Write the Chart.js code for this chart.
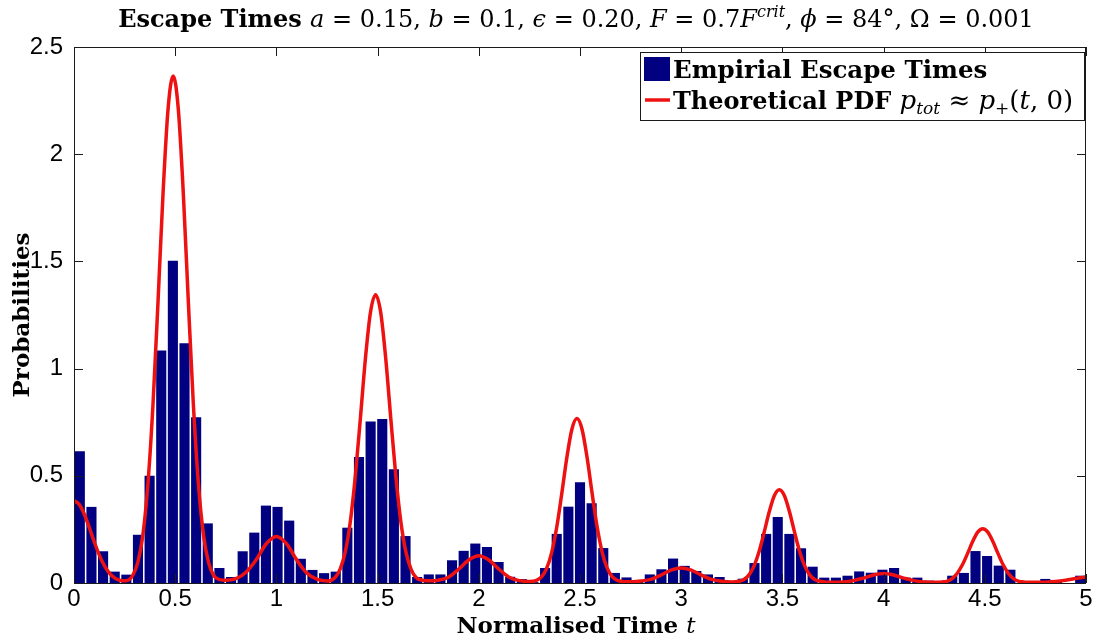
<!DOCTYPE html>
<html>
<head>
<meta charset="utf-8">
<title>Escape Times</title>
<script src="https://cdn.jsdelivr.net/npm/chart.js@4/dist/chart.umd.min.js"></script>
<style>
  html, body { margin: 0; padding: 0; background: #fff; }
</style>
</head>
<body>
<canvas id="escapeChart" width="1100" height="643"></canvas>
<script>
// histogram of empirical escape times: 87 equal bins over [0, 5]
const binRange = [0, 5];
const empiricalProb = [
  0.615, 0.355, 0.148, 0.053, 0.039, 0.225, 0.500, 1.085, 1.503, 1.118,
  0.773, 0.278, 0.070, 0.028, 0.148, 0.235, 0.361, 0.355, 0.291, 0.113,
  0.061, 0.046, 0.053, 0.258, 0.588, 0.753, 0.765, 0.530, 0.219, 0.028,
  0.040, 0.040, 0.106, 0.150, 0.184, 0.168, 0.098, 0.029, 0.018, 0.004,
  0.070, 0.229, 0.356, 0.470, 0.372, 0.163, 0.047, 0.026, 0.012, 0.040,
  0.064, 0.114, 0.080, 0.056, 0.040, 0.028, 0.003, 0.020, 0.093, 0.229,
  0.308, 0.229, 0.162, 0.076, 0.025, 0.025, 0.034, 0.054, 0.048, 0.062,
  0.070, 0.025, 0.025, 0.011, 0.005, 0.034, 0.047, 0.149, 0.126, 0.081,
  0.062, 0, 0, 0.019, 0.008, 0, 0.034,
];

// theoretical pdf
const pdfTime = [
  0, 0.025, 0.05, 0.075, 0.1, 0.125, 0.15, 0.175, 0.2, 0.225, 0.25, 0.27,
  0.29, 0.315, 0.34, 0.365, 0.39, 0.415, 0.44, 0.465, 0.49, 0.515, 0.54, 0.565,
  0.59, 0.615, 0.64, 0.665, 0.69, 0.72, 0.75, 0.8, 0.85, 0.9, 0.95, 1.0,
  1.05, 1.1, 1.15, 1.2, 1.25, 1.29, 1.315, 1.34, 1.365, 1.39, 1.415, 1.44,
  1.465, 1.49, 1.515, 1.54, 1.565, 1.59, 1.615, 1.64, 1.665, 1.69, 1.72, 1.76,
  1.8, 1.85, 1.9, 1.95, 2.0, 2.05, 2.1, 2.15, 2.2, 2.25, 2.285, 2.31,
  2.335, 2.36, 2.385, 2.41, 2.435, 2.46, 2.485, 2.51, 2.535, 2.56, 2.585, 2.61,
  2.635, 2.66, 2.685, 2.72, 2.76, 2.8, 2.85, 2.9, 2.95, 3.0, 3.05, 3.1,
  3.15, 3.2, 3.25, 3.285, 3.31, 3.335, 3.36, 3.385, 3.41, 3.435, 3.46, 3.485,
  3.51, 3.535, 3.56, 3.585, 3.61, 3.635, 3.66, 3.685, 3.72, 3.76, 3.8, 3.85,
  3.9, 3.95, 4.0, 4.05, 4.1, 4.15, 4.2, 4.25, 4.29, 4.315, 4.34, 4.365,
  4.39, 4.415, 4.44, 4.465, 4.49, 4.515, 4.54, 4.565, 4.59, 4.615, 4.64, 4.665,
  4.69, 4.75, 4.8, 4.85, 4.9, 4.95, 5.0,
];
const pdfProb = [
  0.384, 0.368, 0.323, 0.260, 0.192, 0.130, 0.081, 0.046, 0.024, 0.013, 0.010, 0.014,
  0.035, 0.095, 0.222, 0.459, 0.828, 1.310, 1.819, 2.214, 2.365, 2.214, 1.819, 1.310,
  0.828, 0.459, 0.222, 0.095, 0.035, 0.016, 0.013, 0.020, 0.050, 0.108, 0.183, 0.217,
  0.183, 0.108, 0.047, 0.018, 0.009, 0.026, 0.065, 0.144, 0.285, 0.499, 0.769, 1.049,
  1.264, 1.345, 1.264, 1.049, 0.769, 0.499, 0.285, 0.144, 0.065, 0.026, 0.013, 0.010,
  0.013, 0.027, 0.064, 0.107, 0.127, 0.107, 0.064, 0.027, 0.011, 0.007, 0.012, 0.028,
  0.068, 0.142, 0.260, 0.417, 0.585, 0.717, 0.767, 0.717, 0.585, 0.417, 0.260, 0.142,
  0.068, 0.028, 0.012, 0.006, 0.006, 0.009, 0.017, 0.037, 0.060, 0.070, 0.060, 0.037,
  0.017, 0.008, 0.005, 0.008, 0.016, 0.038, 0.080, 0.147, 0.237, 0.332, 0.407, 0.435,
  0.407, 0.332, 0.237, 0.147, 0.080, 0.038, 0.016, 0.008, 0.004, 0.004, 0.005, 0.011,
  0.023, 0.037, 0.044, 0.037, 0.023, 0.011, 0.005, 0.003, 0.005, 0.009, 0.022, 0.047,
  0.086, 0.138, 0.193, 0.237, 0.253, 0.237, 0.193, 0.138, 0.086, 0.047, 0.022, 0.009,
  0.005, 0.003, 0.004, 0.007, 0.013, 0.021, 0.028,
];

const xTickValues = [0, 0.5, 1, 1.5, 2, 2.5, 3, 3.5, 4, 4.5, 5];
const yTickValues = [0, 0.5, 1, 1.5, 2, 2.5];

const barColor = '#000080';
const lineColor = '#ee1111';
const axisColor = '#1a1a1a';
const SANS = '"Liberation Sans", Arial, sans-serif';
const SERIF = '"DejaVu Serif", "Liberation Serif", serif';

const binWidth = (binRange[1] - binRange[0]) / empiricalProb.length;
const barPoints = empiricalProb.map((p, i) => ({ x: binRange[0] + (i + 0.5) * binWidth, y: p }));
const curvePoints = pdfTime.map((t, i) => ({ x: t, y: pdfProb[i] }));

// draws a run of text pieces with different fonts, left to right
function drawRich(ctx, pieces, x, y, align) {
  let total = 0;
  pieces.forEach((p) => {
    ctx.font = p.font;
    p.w = ctx.measureText(p.text).width;
    total += p.w;
  });
  let cx = align === 'center' ? x - total / 2 : x;
  ctx.textBaseline = 'alphabetic';
  ctx.textAlign = 'left';
  pieces.forEach((p) => {
    ctx.font = p.font;
    ctx.fillText(p.text, cx, y + (p.dy || 0));
    cx += p.w;
  });
}

const frameAndTicks = {
  id: 'frameAndTicks',
  afterDatasetsDraw(chart) {
    const { ctx, chartArea: a, scales } = chart;
    const len = 9;
    ctx.save();
    ctx.strokeStyle = axisColor;
    ctx.lineWidth = 1;
    ctx.beginPath();
    xTickValues.forEach((v) => {
      const px = Math.round(scales.x.getPixelForValue(v)) + 0.5;
      ctx.moveTo(px, a.bottom);
      ctx.lineTo(px, a.bottom - len);
      ctx.moveTo(px, a.top);
      ctx.lineTo(px, a.top + len);
    });
    yTickValues.forEach((v) => {
      const py = Math.round(scales.y.getPixelForValue(v)) + 0.5;
      ctx.moveTo(a.left, py);
      ctx.lineTo(a.left + len, py);
      ctx.moveTo(a.right, py);
      ctx.lineTo(a.right - len, py);
    });
    ctx.stroke();
    ctx.strokeRect(Math.round(a.left) + 0.5, Math.round(a.top) + 0.5,
      Math.round(a.width) - 1, Math.round(a.height));
    ctx.restore();
  },
};

const texts = {
  id: 'texts',
  afterDraw(chart) {
    const { ctx, chartArea: a } = chart;
    const mid = (a.left + a.right) / 2;
    ctx.save();
    ctx.fillStyle = '#000';

    const tb = `bold 24px ${SERIF}`;
    const ti = `italic 24px ${SERIF}`;
    const tr = `24px ${SERIF}`;
    drawRich(ctx, [
      { text: 'Escape Times ', font: tb },
      { text: 'a', font: ti }, { text: ' = 0.15, ', font: tr },
      { text: 'b', font: ti }, { text: ' = 0.1, ', font: tr },
      { text: 'ϵ', font: ti }, { text: ' = 0.20, ', font: tr },
      { text: 'F', font: ti }, { text: ' = 0.7', font: tr },
      { text: 'F', font: ti }, { text: 'crit', font: `italic 16px ${SERIF}`, dy: -10 },
      { text: ', ', font: tr },
      { text: 'ϕ', font: ti }, { text: ' = 84°, ', font: tr },
      { text: 'Ω', font: tr }, { text: ' = 0.001', font: tr },
    ], mid - 4, 27, 'center');

    drawRich(ctx, [
      { text: 'Normalised Time ', font: `bold 23px ${SERIF}` },
      { text: 't', font: `italic 23px ${SERIF}` },
    ], mid - 4, 633, 'center');

    // legend box in the top right corner of the axes
    const ds = chart.data.datasets;
    const w = 444;
    const h = 68;
    const left = a.right - 2 - w;
    const top = a.top + 5;
    ctx.fillStyle = '#fff';
    ctx.fillRect(left, top, w, h);
    ctx.strokeStyle = axisColor;
    ctx.lineWidth = 1;
    ctx.strokeRect(left + 0.5, top + 0.5, w, h);

    ctx.fillStyle = ds[0].backgroundColor;
    ctx.fillRect(left + 4, top + 5, 26, 24);
    ctx.strokeStyle = ds[1].borderColor;
    ctx.lineWidth = 3.5;
    ctx.beginPath();
    ctx.moveTo(left + 5, top + 48);
    ctx.lineTo(left + 30, top + 48);
    ctx.stroke();

    ctx.fillStyle = '#000';
    const lb = `bold 24px ${SERIF}`;
    const li = `italic 26px ${SERIF}`;
    const lr = `26px ${SERIF}`;
    const ls = `italic 17px ${SERIF}`;
    drawRich(ctx, [{ text: ds[0].label, font: `bold 24.5px ${SERIF}` }], left + 33, top + 26, 'left');
    drawRich(ctx, [
      { text: ds[1].label + ' ', font: lb },
      { text: 'p', font: li }, { text: 'tot', font: ls, dy: 5 },
      { text: ' ≈ ', font: lr },
      { text: 'p', font: li }, { text: '+', font: `17px ${SERIF}`, dy: 5 },
      { text: '(', font: lr }, { text: 't', font: li }, { text: ', 0)', font: lr },
    ], left + 33, top + 57, 'left');
    ctx.restore();
  },
};

new Chart(document.getElementById('escapeChart'), {
  type: 'bar',
  data: {
    datasets: [
      {
        type: 'bar',
        label: 'Empirial Escape Times',
        data: barPoints,
        backgroundColor: barColor,
        barPercentage: 0.87,
        categoryPercentage: 1,
        order: 2,
      },
      {
        type: 'line',
        label: 'Theoretical PDF',
        data: curvePoints,
        borderColor: lineColor,
        borderWidth: 3.5,
        pointRadius: 0,
        fill: false,
        cubicInterpolationMode: 'monotone',
        order: 1,
      },
    ],
  },
  options: {
    responsive: false,
    animation: false,
    layout: { padding: { top: 47, right: 14, left: 0, bottom: 0 } },
    plugins: {
      legend: { display: false },
      title: { display: false },
      tooltip: { enabled: false },
    },
    scales: {
      x: {
        type: 'linear',
        min: 0,
        max: 5,
        offset: false,
        grid: { display: false, drawTicks: false },
        border: { display: false },
        afterBuildTicks: (scale) => { scale.ticks = xTickValues.map((v) => ({ value: v })); },
        afterFit: (scale) => { scale.height = 60; },
        ticks: {
          color: '#000',
          padding: 2,
          maxRotation: 0,
          autoSkip: false,
          font: { family: SANS, size: 24 },
          callback: (v) => String(v),
        },
      },
      y: {
        min: 0,
        max: 2.5,
        grid: { display: false, drawTicks: false },
        border: { display: false },
        afterBuildTicks: (scale) => { scale.ticks = yTickValues.map((v) => ({ value: v })); },
        afterFit: (scale) => { scale.width = 74; },
        ticks: {
          color: '#000',
          padding: 11,
          font: { family: SANS, size: 24 },
          callback: (v) => String(v),
        },
        title: {
          display: true,
          text: 'Probabilities',
          color: '#000',
          padding: { top: 9, bottom: 0 },
          font: { family: SERIF, size: 23, weight: 'bold' },
        },
      },
    },
  },
  plugins: [frameAndTicks, texts],
});
</script>
</body>
</html>
